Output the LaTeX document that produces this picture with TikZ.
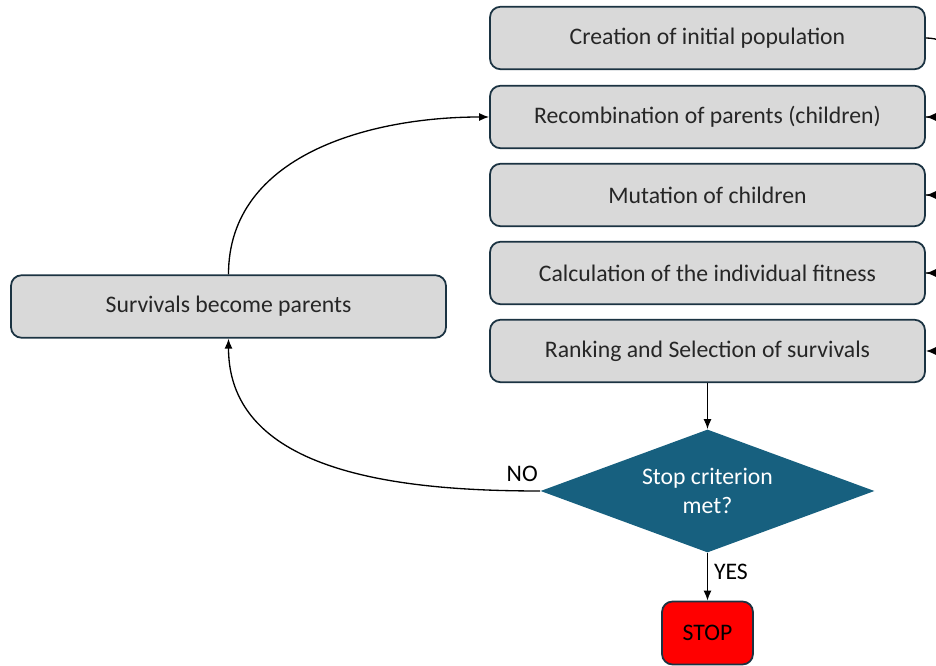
\documentclass[tikz,border=0pt]{standalone}
\usepackage{fontspec}
\setmainfont{Carlito}
\usetikzlibrary{shapes.geometric,arrows.meta}
\definecolor{boxgray}{HTML}{D9D9D9}
\definecolor{boxline}{HTML}{1B3342}
\definecolor{decblue}{HTML}{17607F}
\begin{document}
\begin{tikzpicture}[
       font=\fontsize{13.5}{16.5}\selectfont,
       stepbox/.style={
         rectangle,
         rounded corners=6pt,
         draw=boxline,
         fill=boxgray,
         line width=1pt,
         text=black!85,
         minimum width=8.7cm,
         minimum height=1.25cm
       },
       decision/.style={
         diamond,
         fill=decblue,
         text=white,
         align=center,
         shape aspect=2.7,
         inner sep=0pt,
         minimum width=6.68cm,
         minimum height=2.46cm
       },
       stopbox/.style={
         rectangle,
         rounded corners=6pt,
         draw=boxline,
         fill=red,
         line width=1pt,
         minimum width=1.82cm,
         minimum height=1.26cm
       },
       flow/.style={
         -{Latex[length=2mm,width=1.6mm]},
         line width=0.75pt
       }
     ]

       \useasboundingbox (0,0) rectangle (18.72,-13.32);
       \clip (0,0) rectangle (18.72,-13.32);

       \node (init) at (14.15,-0.76) [stepbox]{Creation of initial population};
       \node (recomb) at (14.15,-2.34) [stepbox]{Recombination of parents (children)};
       \node (mutat) at (14.15,-3.90) [stepbox]{Mutation of children};
       \node (fitness) at (14.15,-5.46) [stepbox]{Calculation of the individual fitness};
       \node (rank) at (14.15,-7.02) [stepbox]{Ranking and Selection of survivals};

       \node (parents) at (4.57,-6.13) [stepbox]{Survivals become parents};

       \node (crit) at (14.15,-9.82) [decision]{Stop criterion\\met?};
       \node (stop) at (14.15,-12.66) [stopbox]{STOP};

       \draw[flow] (init.east) to[out=0,in=0,looseness=1.6] (recomb.east);
       \draw[flow] (recomb.east) to[out=0,in=0,looseness=1.6] (mutat.east);
       \draw[flow] (mutat.east) to[out=0,in=0,looseness=1.6] (fitness.east);
       \draw[flow] (fitness.east) to[out=0,in=0,looseness=1.6] (rank.east);

       \draw[flow] (rank) -- (crit);
       \draw[flow] (crit) -- node[right,pos=0.4]{YES} (stop);

       \draw[flow] (crit.west) to[out=180,in=-90] node[pos=0,anchor=south east,inner sep=1pt,yshift=4pt]{NO} (parents.south);
       \draw[flow] (parents.north) to[out=90,in=180] (recomb.west);

\end{tikzpicture}
\end{document}
